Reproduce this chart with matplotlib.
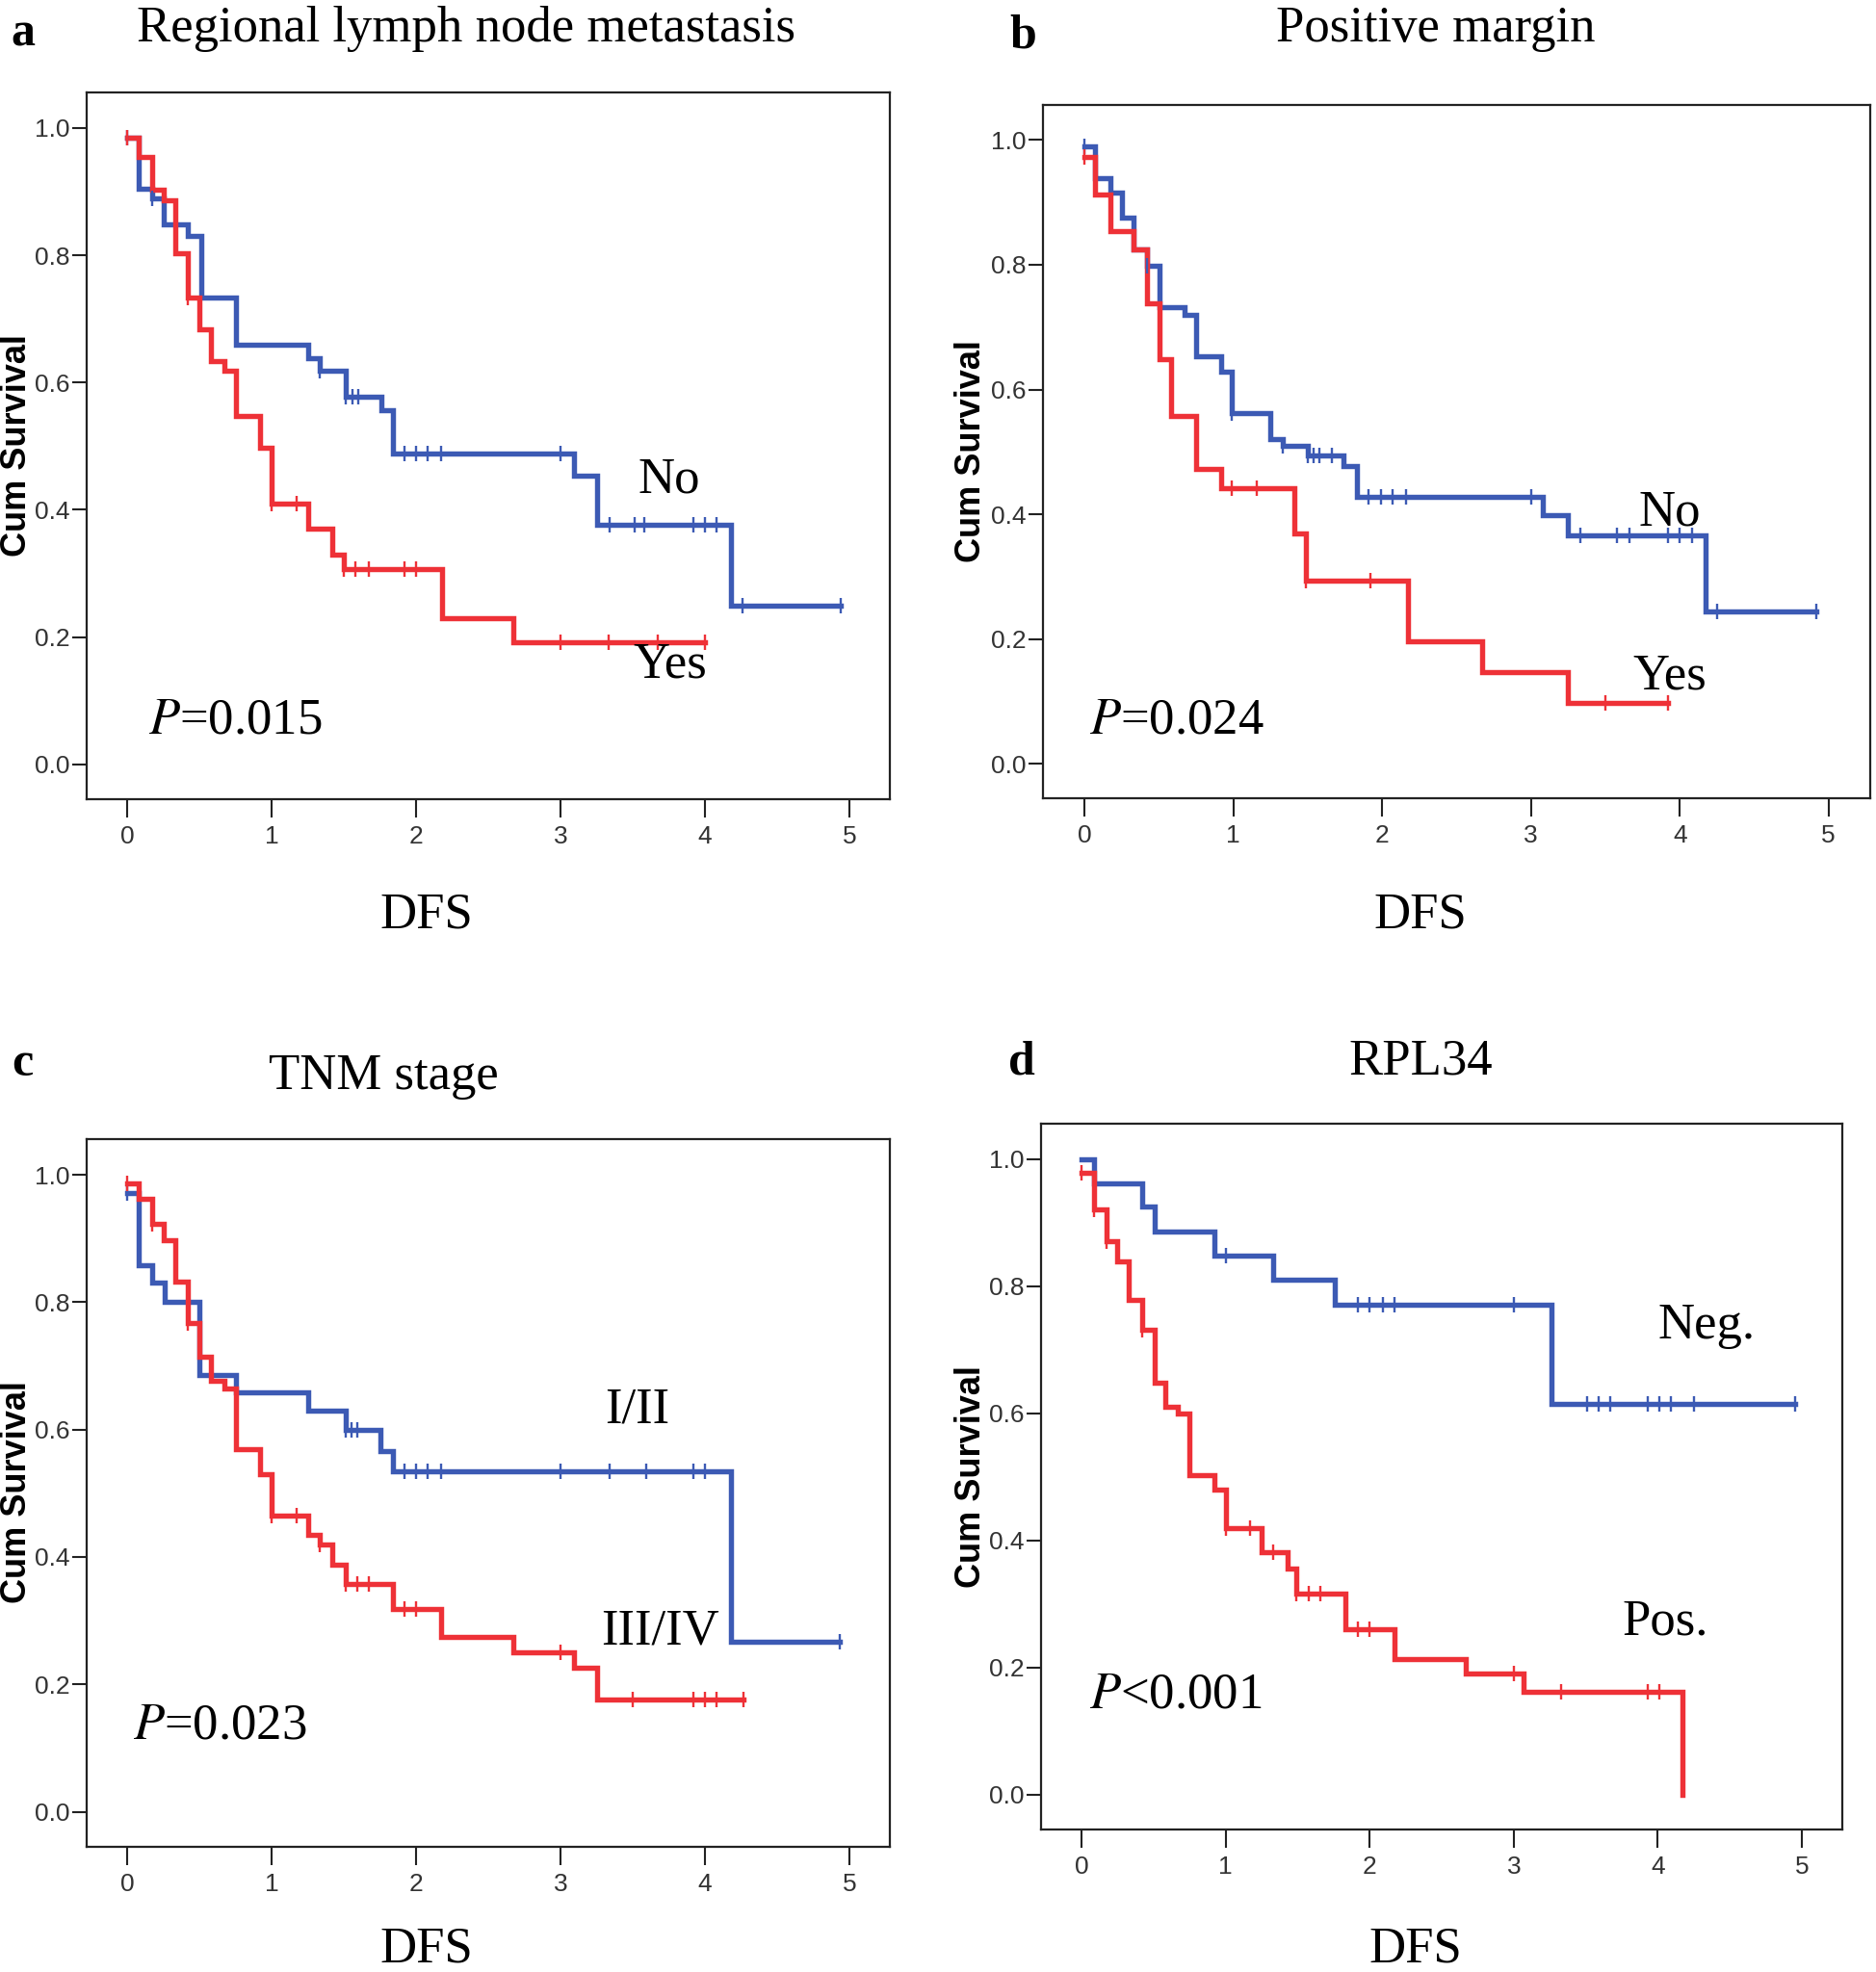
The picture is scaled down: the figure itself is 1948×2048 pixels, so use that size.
import numpy as np
import matplotlib
matplotlib.use("Agg")
import matplotlib.pyplot as plt

# ---------------- data ----------------
# Panel a: Regional lymph node metastasis
a_no_t = [0, 0.08, 0.17, 0.25, 0.42, 0.51, 0.75, 1.25, 1.33, 1.51, 1.76, 1.84, 3.09, 3.25, 4.18]
a_no_s = [0.985, 0.905, 0.889, 0.849, 0.831, 0.734, 0.659, 0.638, 0.619, 0.578, 0.557, 0.489, 0.454, 0.377, 0.249]
a_no_c = [0.0, 0.17, 1.33, 1.51, 1.56, 1.60, 1.92, 2.0, 2.08, 2.17, 3.0, 3.34, 3.51, 3.58, 3.92, 4.0, 4.08, 4.26, 4.94]
a_no_end = 4.94
a_yes_t = [0, 0.08, 0.17, 0.25, 0.33, 0.42, 0.5, 0.58, 0.67, 0.75, 0.92, 1.0, 1.25, 1.42, 1.5, 2.18, 2.67]
a_yes_s = [0.985, 0.954, 0.903, 0.886, 0.803, 0.734, 0.684, 0.633, 0.618, 0.548, 0.497, 0.409, 0.371, 0.329, 0.307, 0.230, 0.192]
a_yes_c = [0.0, 0.42, 1.0, 1.17, 1.5, 1.58, 1.67, 1.92, 2.0, 3.0, 3.33, 3.67, 4.0]
a_yes_end = 4.0

# Panel b: Positive margin
b_no_t = [0, 0.07, 0.17, 0.25, 0.33, 0.42, 0.5, 0.67, 0.75, 0.92, 0.99, 1.25, 1.33, 1.5, 1.74, 1.83, 3.08, 3.25, 4.17]
b_no_s = [0.990, 0.939, 0.916, 0.876, 0.825, 0.799, 0.732, 0.72, 0.653, 0.628, 0.562, 0.52, 0.509, 0.495, 0.478, 0.428, 0.399, 0.367, 0.244]
b_no_c = [0.0, 0.42, 0.99, 1.33, 1.5, 1.54, 1.58, 1.66, 1.91, 1.99, 2.07, 2.16, 3.0, 3.33, 3.58, 3.66, 3.92, 4.0, 4.08, 4.25, 4.92]
b_no_end = 4.92
b_yes_t = [0, 0.07, 0.17, 0.33, 0.42, 0.5, 0.58, 0.75, 0.92, 1.41, 1.49, 2.17, 2.67, 3.25]
b_yes_s = [0.972, 0.913, 0.854, 0.825, 0.738, 0.649, 0.558, 0.472, 0.442, 0.369, 0.294, 0.197, 0.147, 0.097]
b_yes_c = [0.0, 0.99, 1.16, 1.49, 1.92, 3.5, 3.92]
b_yes_end = 3.92

# Panel c: TNM stage
c_12_t = [0, 0.08, 0.17, 0.26, 0.5, 0.75, 1.25, 1.51, 1.75, 1.84, 4.18]
c_12_s = [0.972, 0.858, 0.831, 0.8, 0.686, 0.659, 0.630, 0.6, 0.567, 0.534, 0.267]
c_12_c = [0.0, 1.51, 1.55, 1.59, 1.92, 2.0, 2.08, 2.17, 3.0, 3.34, 3.59, 3.92, 4.0, 4.93]
c_12_end = 4.93
c_34_t = [0, 0.08, 0.17, 0.25, 0.33, 0.42, 0.5, 0.58, 0.67, 0.75, 0.92, 1.0, 1.25, 1.33, 1.42, 1.51,
          1.84, 2.17, 2.67, 3.09, 3.25]
c_34_s = [0.987, 0.963, 0.923, 0.898, 0.833, 0.768, 0.715, 0.677, 0.664, 0.569, 0.530, 0.465, 0.434, 0.42,
          0.388, 0.357, 0.319, 0.274, 0.251, 0.226, 0.176]
c_34_c = [0.0, 0.17, 0.42, 1.0, 1.17, 1.33, 1.51, 1.59, 1.67, 1.92, 2.0, 3.0, 3.5, 3.92, 4.0, 4.08, 4.27]
c_34_end = 4.27

# Panel d: RPL34
d_neg_t = [0, 0.085, 0.42, 0.51, 0.92, 1.33, 1.76, 3.26]
d_neg_s = [1.0, 0.962, 0.925, 0.887, 0.848, 0.81, 0.771, 0.615]
d_neg_c = [1.0, 1.92, 2.0, 2.09, 2.17, 3.0, 3.51, 3.59, 3.67, 3.93, 4.01, 4.09, 4.25, 4.95]
d_neg_end = 4.95
d_pos_t = [0, 0.085, 0.175, 0.25, 0.33, 0.42, 0.51, 0.58, 0.67, 0.75, 0.92, 1.0, 1.25, 1.43, 1.49,
           1.83, 2.17, 2.67, 3.07, 4.17]
d_pos_s = [0.978, 0.921, 0.871, 0.839, 0.779, 0.732, 0.648, 0.611, 0.6, 0.503, 0.48, 0.42, 0.382, 0.356,
           0.316, 0.261, 0.214, 0.191, 0.162, 0.0]
d_pos_c = [0.0, 0.085, 0.175, 0.42, 1.0, 1.17, 1.33, 1.49, 1.58, 1.66, 1.92, 2.0, 3.0, 3.33, 3.93, 4.01]
d_pos_end = 4.17

x_ticks = [0, 1, 2, 3, 4, 5]
y_ticks = [0.0, 0.2, 0.4, 0.6, 0.8, 1.0]
y_ticklabels = ["0.0", "0.2", "0.4", "0.6", "0.8", "1.0"]

panel_letters = ["a", "b", "c", "d"]
panel_titles = ["Regional lymph node metastasis", "Positive margin", "TNM stage", "RPL34"]
p_texts = ["=0.015", "=0.024", "=0.023", "<0.001"]
group_labels = [("No", "Yes"), ("No", "Yes"), ("I/II", "III/IV"), ("Neg.", "Pos.")]

# ---------------- style ----------------
W, H = 1948, 2048
BLUE = "#3C5AB4"
RED = "#EE3137"
SERIF = ["Liberation Serif", "DejaVu Serif"]
TICKFONT = ["Liberation Sans Narrow", "Liberation Sans", "DejaVu Sans"]
BIG = 38

fig = plt.figure(figsize=(W / 100, H / 100), dpi=100)


def fx(px):
    return px / W


def fy(py):
    return 1 - py / H


def axes_box(l, t, r, b):
    return [fx(l), fy(b), fx(r) - fx(l), (b - t) / H]


boxes = [
    axes_box(90, 96, 924, 830),
    axes_box(1083, 109, 1942, 829),
    axes_box(90, 1183, 924, 1918),
    axes_box(1081, 1167, 1913, 1900),
]

series = [
    ((a_no_t, a_no_s, a_no_c, a_no_end), (a_yes_t, a_yes_s, a_yes_c, a_yes_end)),
    ((b_no_t, b_no_s, b_no_c, b_no_end), (b_yes_t, b_yes_s, b_yes_c, b_yes_end)),
    ((c_12_t, c_12_s, c_12_c, c_12_end), (c_34_t, c_34_s, c_34_c, c_34_end)),
    ((d_neg_t, d_neg_s, d_neg_c, d_neg_end), (d_pos_t, d_pos_s, d_pos_c, d_pos_end)),
]

# text placement (figure pixels)
letter_pos = [(24, 35), (1062, 37), (23, 1105), (1061, 1104)]
title_pos = [(484, 30), (1491, 30), (398, 1118), (1475, 1103)]
dfs_pos = [(443, 951), (1475, 951), (443, 2024), (1470, 2024)]
ylab_pos = [(18, 463), (1009, 469), (18, 1550), (1009, 1534)]
p_pos = [(154, 748), (1131, 748), (138, 1792), (1131, 1761)]
lab1_pos = [(695, 499), (1734, 532), (662, 1464), (1772, 1377)]
lab2_pos = [(696, 691), (1734, 703), (685, 1694), (1729, 1684)]


def draw_km(ax, t, s, c, end, color):
    t = np.asarray(t, float)
    s = np.asarray(s, float)
    xs = np.append(t, end)
    ys = np.append(s, s[-1])
    ax.step(xs, ys, where="post", color=color, lw=3.9, solid_joinstyle="miter", zorder=3)
    c = np.asarray(c, float)
    idx = np.searchsorted(t, c, side="right") - 1
    ax.plot(c, s[idx], ls="none", marker="|", ms=11, mew=1.7, color=color, zorder=4)


for i in range(4):
    ax = fig.add_axes(boxes[i])
    (ta, sa, ca, ea), (tb, sb, cb, eb) = series[i]
    draw_km(ax, ta, sa, ca, ea, BLUE)
    draw_km(ax, tb, sb, cb, eb, RED)
    ax.set_xlim(-0.28, 5.28)
    ax.set_ylim(-0.055, 1.056)
    ax.set_xticks(x_ticks)
    ax.set_xticklabels([str(v) for v in x_ticks])
    ax.set_yticks(y_ticks)
    ax.set_yticklabels(y_ticklabels)
    for sp in ax.spines.values():
        sp.set_linewidth(1.6)
        sp.set_color("#222222")
    ax.tick_params(axis="x", direction="out", length=13.5, width=1.5, color="#222222", pad=6,
                   labelsize=19, labelcolor="#333333")
    ax.tick_params(axis="y", direction="out", length=10.5, width=1.5, color="#222222", pad=2,
                   labelsize=19, labelcolor="#333333")
    for lab in ax.get_xticklabels() + ax.get_yticklabels():
        lab.set_family(TICKFONT)

    x, y = letter_pos[i]
    fig.text(fx(x), fy(y), panel_letters[i], family=SERIF, fontsize=36, fontweight="bold",
             ha="center", va="center")
    x, y = title_pos[i]
    fig.text(fx(x), fy(y), panel_titles[i], family=SERIF, fontsize=BIG, ha="center", va="center")
    x, y = dfs_pos[i]
    fig.text(fx(x), fy(y), "DFS", family=SERIF, fontsize=BIG, ha="center", va="center")
    x, y = ylab_pos[i]
    fig.text(fx(x), fy(y), "Cum Survival", family=["Liberation Sans", "DejaVu Sans"], fontsize=26,
             fontweight="bold", rotation=90, ha="center", va="center")
    x, y = p_pos[i]
    fig.text(fx(x), fy(y), r"$\mathit{P}$" + p_texts[i], family=SERIF, fontsize=BIG,
             ha="left", va="center", math_fontfamily="stix")
    x, y = lab1_pos[i]
    fig.text(fx(x), fy(y), group_labels[i][0], family=SERIF, fontsize=BIG, ha="center", va="center")
    x, y = lab2_pos[i]
    fig.text(fx(x), fy(y), group_labels[i][1], family=SERIF, fontsize=BIG, ha="center", va="center")

fig.savefig("out.png", dpi=100, facecolor="white")
